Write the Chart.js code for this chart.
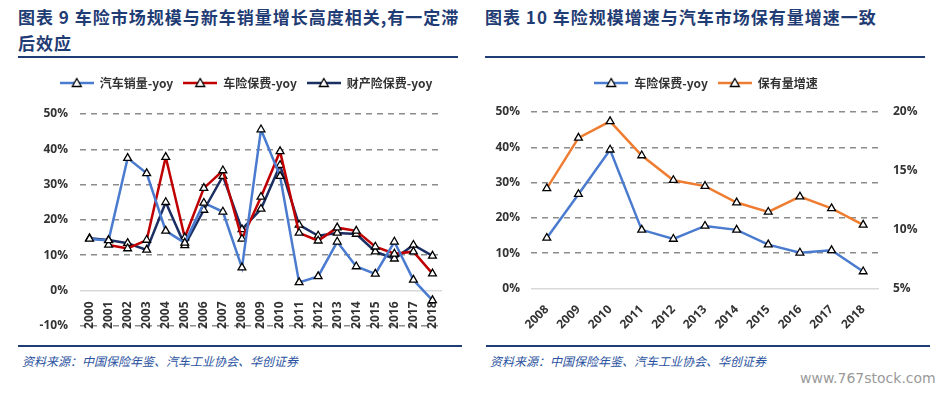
<!DOCTYPE html>
<html>
<head>
<meta charset="utf-8">
<script src="https://cdn.jsdelivr.net/npm/chart.js@4.4.0/dist/chart.umd.min.js"></script>
<style>
  body { margin: 0; background: #fff; width: 942px; height: 393px; position: relative; overflow: hidden; }
  .title { position: absolute; font-family: "Noto Sans CJK SC", sans-serif; font-weight: bold; font-size: 17px; color: #1f3c74; letter-spacing: 1px; line-height: 26px; white-space: nowrap; }
  .rule { position: absolute; height: 2px; background: #1f3c74; }
  .src { position: absolute; font-family: "Noto Sans CJK SC", sans-serif; font-style: italic; font-size: 12px; color: #2a52a0; white-space: nowrap; }
  .wm { position: absolute; font-family: "DejaVu Sans", sans-serif; font-size: 14px; color: #9a9a9a; }
  .box { position: absolute; }
</style>
</head>
<body>
<div class="title" style="left:18px; top:4px;">图表 9 车险市场规模与新车销量增长高度相关,有一定滞<br>后效应</div>
<div class="rule" style="left:18px; top:56px; width:440px;"></div>
<div class="title" style="left:485px; top:4px;">图表 10 车险规模增速与汽车市场保有量增速一致</div>
<div class="rule" style="left:485px; top:56px; width:440px;"></div>

<div class="box" style="left:0; top:62px; width:462px; height:283px;"><canvas id="leftChart"></canvas></div>
<div class="box" style="left:470px; top:62px; width:472px; height:280px;"><canvas id="rightChart"></canvas></div>

<div class="rule" style="left:18px; top:345px; width:444px;"></div>
<div class="rule" style="left:486px; top:345px; width:444px;"></div>
<div class="src" style="left:22px; top:352px;">资料来源：中国保险年鉴、汽车工业协会、华创证券</div>
<div class="src" style="left:490px; top:352px;">资料来源：中国保险年鉴、汽车工业协会、华创证券</div>
<div class="wm" style="left:800px; top:370px;">www.767stock.com</div>

<script>
// chart 9
const years = ['2000','2001','2002','2003','2004','2005','2006','2007','2008','2009',
  '2010','2011','2012','2013','2014','2015','2016','2017','2018'];
const autoSalesYoy = [14.6, 14.2, 37.5, 33.2, 16.9, 13.5, 24.8, 22.3, 6.5, 45.6,
  32.4, 2.3, 4.0, 13.8, 6.8, 4.7, 13.8, 3.0, -2.8];
const autoPremiumYoy = [null, 12.9, 11.9, 14.3, 37.8, 15.0, 29.0, 34.0, 14.6, 26.5,
  39.4, 16.3, 14.1, 17.8, 16.9, 12.4, 10.4, 11.0, 4.8];
const propertyPremiumYoy = [14.8, 14.3, 13.4, 11.5, 25.0, 12.8, 22.8, 32.4, 17.3, 23.1,
  35.5, 18.6, 15.5, 16.3, 16.0, 11.0, 9.0, 12.9, 9.8];
const leftTicks = [-10, 0, 10, 20, 30, 40, 50];

// chart 10
const years2 = ['2008','2009','2010','2011','2012','2013','2014','2015','2016','2017','2018'];
const carPremiumYoy = [14.3, 26.7, 39.3, 16.6, 14.0, 17.7, 16.6, 12.4, 10.1, 10.8, 4.8];
const stockGrowth = [13.5, 17.8, 19.2, 16.3, 14.2, 13.7, 12.3, 11.5, 12.8, 11.8, 10.4];
const rightTicksLeft = [0, 10, 20, 30, 40, 50];
const rightTicksRight = [5, 10, 15, 20];

const BLUE = '#4a7bcf', RED = '#c00000', NAVY = '#1c2f63', ORANGE = '#ee7d31';
const tickFont = { family: 'Open Sans', weight: 'bold', size: 12 };

// legend icon: line with triangle in the middle
function legendIcon(color) {
  const c = document.createElement('canvas');
  c.width = 34; c.height = 12;
  const g = c.getContext('2d');
  g.strokeStyle = color; g.lineWidth = 2.5;
  g.beginPath(); g.moveTo(0, 6); g.lineTo(34, 6); g.stroke();
  g.fillStyle = '#fff'; g.strokeStyle = '#000'; g.lineWidth = 1.3;
  g.beginPath(); g.moveTo(17, 1.5); g.lineTo(21.5, 9.5); g.lineTo(12.5, 9.5); g.closePath();
  g.fill(); g.stroke();
  return c;
}

function series(label, data, color, axis) {
  return {
    label: label, data: data, borderColor: color, borderWidth: 2.5,
    pointStyle: 'triangle', pointRadius: 4.5, pointBorderColor: '#000',
    pointBorderWidth: 1.3, pointBackgroundColor: '#fff',
    yAxisID: axis || 'y', tension: 0, spanGaps: false
  };
}

function legendOpts() {
  return {
    position: 'top',
    labels: {
      usePointStyle: true, pointStyleWidth: 34, boxHeight: 12, padding: 10,
      color: '#333', font: { family: 'Noto Sans CJK SC', weight: 'bold', size: 12 },
      generateLabels: chart => chart.data.datasets.map((ds, i) => ({
        text: ds.label, pointStyle: legendIcon(ds.borderColor),
        fillStyle: ds.borderColor, strokeStyle: ds.borderColor, lineWidth: 0,
        datasetIndex: i, fontColor: '#333'
      }))
    }
  };
}

// extra space under the legend, and an optional sideways nudge
const legendGap = {
  id: 'legendGap',
  beforeInit(chart) {
    const fit = chart.legend.fit;
    const extra = chart.options.plugins.legendGap.extra;
    chart.legend.fit = function () { fit.bind(chart.legend)(); this.height += extra; };
  },
  afterLayout(chart) {
    const shift = chart.options.plugins.legendGap.shift || 0;
    chart.legend.left += shift;
    chart.legend.right += shift;
  }
};

const gridColor = ctx => ctx.tick && ctx.tick.value === 0 ? '#d9d9d9' : '#8c8c8c';
const gridDash = ctx => ctx.tick && ctx.tick.value === 0 ? [] : [6, 5];

new Chart(document.getElementById('leftChart'), {
  type: 'line',
  data: {
    labels: years,
    datasets: [
      series('汽车销量-yoy', autoSalesYoy, BLUE),
      series('车险保费-yoy', autoPremiumYoy, RED),
      series('财产险保费-yoy', propertyPremiumYoy, NAVY)
    ]
  },
  options: {
    responsive: true, maintainAspectRatio: false, animation: false,
    layout: { padding: { left: 0, right: 20, top: 5, bottom: 0 } },
    plugins: { legend: legendOpts(), tooltip: { enabled: false }, legendGap: { extra: 15, shift: 25 } },
    scales: {
      x: {
        position: { y: 0 }, offset: true,
        grid: { display: false }, border: { display: false },
        ticks: { minRotation: 90, maxRotation: 90, padding: 3, color: '#333', font: tickFont, autoSkip: false },
        afterFit: s => { s.height = 0; }
      },
      y: {
        min: -10, max: 50,
        afterBuildTicks: s => { s.ticks = leftTicks.map(v => ({ value: v })); },
        afterFit: s => { s.width = 80; },
        grid: { color: gridColor, lineWidth: 1.5, drawTicks: false },
        border: { display: false, dash: gridDash },
        ticks: { padding: 12, color: '#333', font: tickFont, callback: v => v + '%' }
      }
    }
  },
  plugins: [legendGap]
});

new Chart(document.getElementById('rightChart'), {
  type: 'line',
  data: {
    labels: years2,
    datasets: [
      series('车险保费-yoy', carPremiumYoy, BLUE, 'y'),
      series('保有量增速', stockGrowth, ORANGE, 'y1')
    ]
  },
  options: {
    responsive: true, maintainAspectRatio: false, animation: false,
    layout: { padding: { left: 0, right: 0, top: 5, bottom: 4 } },
    plugins: { legend: legendOpts(), tooltip: { enabled: false }, legendGap: { extra: 13 } },
    scales: {
      x: {
        offset: true,
        grid: { display: false }, border: { display: false },
        ticks: { minRotation: 45, maxRotation: 45, padding: 6, color: '#333', font: tickFont, autoSkip: false }
      },
      y: {
        position: 'left', min: 0, max: 50,
        afterBuildTicks: s => { s.ticks = rightTicksLeft.map(v => ({ value: v })); },
        afterFit: s => { s.width = 61; },
        grid: { color: gridColor, lineWidth: 1.5, drawTicks: false },
        border: { display: false, dash: gridDash },
        ticks: { padding: 11, color: '#333', font: tickFont, callback: v => v + '%' }
      },
      y1: {
        position: 'right', min: 5, max: 20,
        afterBuildTicks: s => { s.ticks = rightTicksRight.map(v => ({ value: v })); },
        afterFit: s => { s.width = 63; },
        grid: { display: false, drawTicks: false }, border: { display: false },
        ticks: { padding: 14, color: '#333', font: tickFont, callback: v => v + '%' }
      }
    }
  },
  plugins: [legendGap]
});
</script>
</body>
</html>
